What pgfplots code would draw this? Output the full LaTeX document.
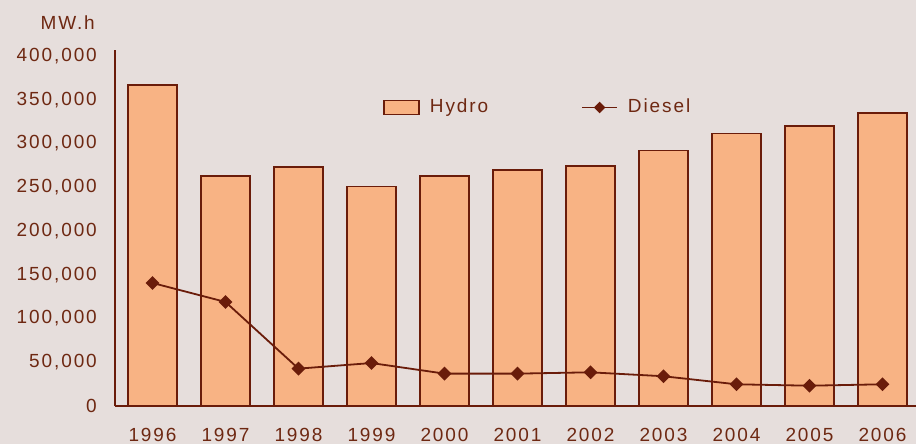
\documentclass[border=0pt]{standalone}
\usepackage{fontspec}
\setmainfont{Liberation Sans}[LetterSpace=10]
\usepackage{pgfplots}
\pgfplotsset{compat=1.18}
\definecolor{bgc}{HTML}{E6DEDC}
\definecolor{barc}{HTML}{F8B384}
\definecolor{edgec}{HTML}{6A1C0A}
\definecolor{textc}{HTML}{6E2812}
\newcommand{\lblfont}{\fontsize{19bp}{22bp}\selectfont}
\begin{document}
\lblfont
\begin{tikzpicture}
\fill[bgc] (-115bp,-38bp) rectangle (801bp,406bp);
\begin{axis}[
  at={(0,0)}, anchor=south west, scale only axis,
  width=801bp, height=356bp,
  xmin=-0.514, xmax=10.459, ymin=0, ymax=406857,
  axis lines*=left,
  axis line style={draw=edgec, line width=1.4bp},
  major tick length=0pt,
  xtick={0,1,2,3,4,5,6,7,8,9,10},
  xticklabels={1996,1997,1998,1999,2000,2001,2002,2003,2004,2005,2006},
  ytick={0,50000,100000,150000,200000,250000,300000,350000,400000},
  scaled y ticks=false,
  /pgf/number format/.cd, fixed, 1000 sep={,}, assume math mode=true, /pgfplots/.cd,
  yticklabel style={anchor=east, inner sep=0pt, xshift=-18bp, text=textc, font=\lblfont},
  xticklabel style={anchor=north, inner sep=0pt, yshift=-22bp, text=textc, font=\lblfont},
  legend columns=2,
  legend style={at={(0.3346,0.8385)}, anchor=west, draw=none, fill=none, inner sep=0pt,
    nodes={inner sep=0pt, text=textc, font=\lblfont}, column sep=10bp,
    /tikz/every even column/.append style={column sep=93bp}},
]
\addplot[ybar, bar width=49bp, fill=barc, draw=edgec, line width=1.7bp,
  legend image code/.code={\draw[fill=barc, draw=edgec, line width=1.7bp] (0bp,-7bp) rectangle (35bp,7bp);}]
  coordinates {(0,367000) (1,263000) (2,273500) (3,251000) (4,263000) (5,270000) (6,274500) (7,292000) (8,311500) (9,320000) (10,335000)};
\addlegendentry{Hydro}
\addplot[draw=edgec, line width=1.8bp, mark=square*, mark size=4bp,
  mark options={rotate=45, fill=edgec, draw=edgec},
  legend image code/.code={\draw[draw=edgec, line width=1.8bp] (0bp,0bp) -- (35bp,0bp);
    \fill[edgec] (17.5bp,0bp) ++(0bp,-4.5bp) -- ++(4.5bp,4.5bp) -- ++(-4.5bp,4.5bp) -- ++(-4.5bp,-4.5bp) -- cycle;}]
  coordinates {(0,140600) (1,118900) (2,42700) (3,49100) (4,37000) (5,37000) (6,38500) (7,34000) (8,24800) (9,23200) (10,24800)};
\addlegendentry{Diesel}
\end{axis}
\node[anchor=east, inner sep=0pt, text=textc] at (-20bp,383bp) {MW.h};
\pgfresetboundingbox
\path[use as bounding box] (-115bp,-38bp) rectangle (801bp,406bp);
\end{tikzpicture}
\end{document}
